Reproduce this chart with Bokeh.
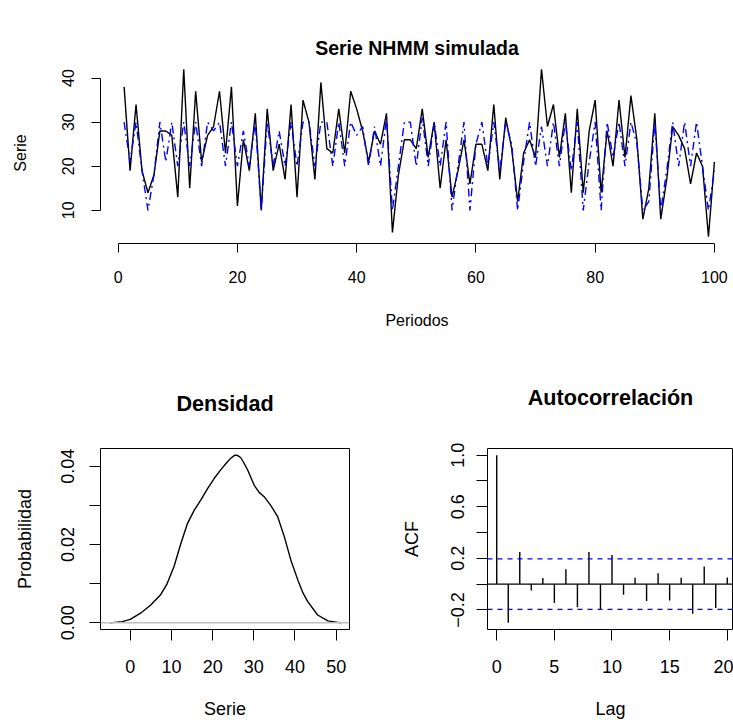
from bokeh.plotting import figure
from bokeh.layouts import column, row
from bokeh.models import FixedTicker, Span
from bokeh.embed import file_html
from bokeh.resources import INLINE

# ---------------- data ----------------
periodos = list(range(1, 101))
serie = [38, 19, 34, 19, 14, 18, 28, 28, 27, 13,
         42, 15, 37, 21, 27, 29, 37, 23, 38, 11,
         26, 19, 32, 10, 33, 19, 25, 17, 34, 13,
         35, 30, 17, 39, 24, 23, 33, 23, 37, 33,
         28, 21, 28, 25, 32, 5, 18, 26, 26, 24,
         33, 22, 30, 15, 26, 13, 19, 26, 16, 25,
         25, 19, 34, 17, 31, 24, 12, 23, 26, 22,
         42, 29, 34, 22, 32, 14, 33, 14, 28, 35,
         14, 28, 20, 35, 22, 36, 26, 8, 15, 32,
         8, 17, 29, 27, 24, 16, 23, 20, 4, 21]
ajuste = [30, 21, 30, 19, 10, 18, 30, 21, 30, 20,
          30, 20, 30, 20, 30, 28, 30, 20, 30, 20,
          28, 20, 30, 10, 30, 20, 28, 20, 30, 20,
          30, 30, 20, 30, 30, 20, 30, 20, 30, 27,
          29, 20, 29, 20, 31, 10, 20, 30, 30, 20,
          31, 20, 30, 20, 30, 10, 20, 30, 10, 25,
          30, 20, 30, 19, 30, 25, 10, 21, 30, 20,
          29, 20, 30, 20, 30, 19, 30, 10, 21, 30,
          10, 30, 22, 30, 20, 30, 25, 10, 12, 30,
          10, 19, 30, 20, 30, 20, 30, 20, 10, 19]

dens_x = [-5.0, -2.0, 0.0, 2.4, 4.9, 7.3, 8.9, 10.6, 12.3, 13.9, 15.5, 17.1,
          18.8, 20.4, 22.0, 23.6, 24.4, 25.4, 26.1, 26.8, 27.6, 28.5, 30.1,
          31.3, 32.5, 34.1, 35.8, 37.4, 39.0, 40.7, 42.0, 43.1, 45.5, 48.0, 51.2]
dens_y = [0.0000, 0.0003, 0.0009, 0.0024, 0.0045, 0.0071, 0.0099, 0.0143,
          0.0203, 0.0254, 0.0287, 0.0313, 0.0343, 0.0369, 0.0391, 0.0411,
          0.0420, 0.0428, 0.0427, 0.0422, 0.0408, 0.0390, 0.0351, 0.0333,
          0.0322, 0.0300, 0.0271, 0.0220, 0.0160, 0.0109, 0.0075, 0.0054,
          0.0020, 0.0005, 0.0000]

lags = list(range(0, 21))
acf_vals = [1.0, -0.30, 0.25, -0.05, 0.047, -0.147, 0.116, -0.18, 0.25, -0.20,
            0.225, -0.083, 0.05, -0.13, 0.085, -0.127, 0.05, -0.23, 0.137,
            -0.186, 0.052]
ci = 0.196

FONT = "Liberation Sans"


def style_axis(ax, size, tick_out, standoff, label_standoff):
    ax.axis_line_color = "black"
    ax.axis_line_width = 1
    ax.major_tick_line_color = "black"
    ax.major_tick_line_width = 1
    ax.major_tick_out = tick_out
    ax.major_tick_in = 0
    ax.minor_tick_out = 0
    ax.minor_tick_in = 0
    ax.major_label_text_font = FONT
    ax.major_label_text_font_size = size
    ax.major_label_text_color = "black"
    ax.major_label_standoff = standoff
    ax.axis_label_text_font = FONT
    ax.axis_label_text_font_size = size
    ax.axis_label_text_font_style = "normal"
    ax.axis_label_text_color = "black"
    ax.axis_label_standoff = label_standoff


def base_fig(width, height, title, title_size, xr, yr, mbl, mbr, mbt, mbb):
    p = figure(width=width, height=height, x_range=xr, y_range=yr,
               output_backend="svg", toolbar_location=None,
               min_border_left=mbl, min_border_right=mbr,
               min_border_top=mbt, min_border_bottom=mbb)
    p.title.text = title
    p.title.text_font = FONT
    p.title.text_font_size = title_size
    p.title.text_font_style = "bold"
    p.title.align = "center"
    p.title.text_color = "black"
    p.xgrid.visible = False
    p.ygrid.visible = False
    p.background_fill_color = "white"
    p.border_fill_color = "white"
    return p


# ---------------- top: series ----------------
top = base_fig(733, 340, "Serie NHMM simulada", "19.5px",
               (-2.96, 103.2), (2.48, 43.52), 100, 0, 62, 97)
top.outline_line_color = None
top.title.standoff = 8
top.line(periodos, serie, line_color="black", line_width=1.4)
top.line(periodos, ajuste, line_color="#0000FF", line_width=1.4,
         line_dash="8 4 2 4")
top.xaxis.axis_label = "Periodos"
top.yaxis.axis_label = "Serie"
top.xaxis.ticker = FixedTicker(ticks=[0, 20, 40, 60, 80, 100])
top.yaxis.ticker = FixedTicker(ticks=[10, 20, 30, 40])
top.xaxis.bounds = (0, 100)
top.yaxis.bounds = (10, 40)
style_axis(top.xaxis[0], "16px", 9, 18, 26)
style_axis(top.yaxis[0], "16px", 9, 17, 31)
top.yaxis.major_label_orientation = "vertical"

# ---------------- bottom-left: density ----------------
dens = base_fig(366, 383, "Densidad", "21.6px",
                (-7.24, 53.24), (-0.0017, 0.0445), 100, 17, 108, 94)
dens.outline_line_color = "black"
dens.title.standoff = 66
dens.line(dens_x, dens_y, line_color="black", line_width=1.4)
dens.add_layout(Span(location=0, dimension="width", line_color="#BEBEBE",
                     line_width=1.5))
dens.xaxis.axis_label = "Serie"
dens.yaxis.axis_label = "Probabilidad"
dens.xaxis.ticker = FixedTicker(ticks=[0, 10, 20, 30, 40, 50])
dens.yaxis.ticker = FixedTicker(ticks=[0, 0.01, 0.02, 0.03, 0.04])
dens.yaxis.major_label_overrides = {0: "0.00", 0.01: "", 0.02: "0.02",
                                    0.03: "", 0.04: "0.04"}
dens.xaxis.bounds = (0, 50)
dens.yaxis.bounds = (0, 0.04)
style_axis(dens.xaxis[0], "18px", 11, 19, 23)
style_axis(dens.yaxis[0], "18px", 11, 15, 24)
dens.yaxis.major_label_orientation = "vertical"

# ---------------- bottom-right: ACF ----------------
acf = base_fig(367, 383, "Autocorrelación", "21.6px",
               (-0.8, 20.54), (-0.352, 1.052), 121, 0, 108, 94)
acf.outline_line_color = "black"
acf.title.standoff = 78
acf.segment(x0=lags, y0=[0] * len(lags), x1=lags, y1=acf_vals,
            line_color="black", line_width=1.4)
acf.add_layout(Span(location=0, dimension="width", line_color="black",
                    line_width=1.2))
for lvl in (ci, -ci):
    acf.add_layout(Span(location=lvl, dimension="width", line_color="#0000FF",
                        line_width=1.3, line_dash="5 5"))
acf.xaxis.axis_label = "Lag"
acf.yaxis.axis_label = "ACF"
acf.xaxis.ticker = FixedTicker(ticks=[0, 5, 10, 15, 20])
acf.yaxis.ticker = FixedTicker(ticks=[-0.2, 0, 0.2, 0.4, 0.6, 0.8, 1])
acf.yaxis.major_label_overrides = {-0.2: "\u22120.2", 0: "", 0.2: "0.2",
                                   0.4: "", 0.6: "0.6", 0.8: "", 1: "1.0"}
acf.xaxis.bounds = (0, 20)
acf.yaxis.bounds = (-0.2, 1)
style_axis(acf.xaxis[0], "18px", 11, 19, 23)
style_axis(acf.yaxis[0], "18px", 11, 12, 27)
acf.yaxis.major_label_orientation = "vertical"

layout = column(top, row(dens, acf, spacing=0), spacing=0)

with open("out.html", "w") as f:
    f.write(file_html(layout, INLINE))
